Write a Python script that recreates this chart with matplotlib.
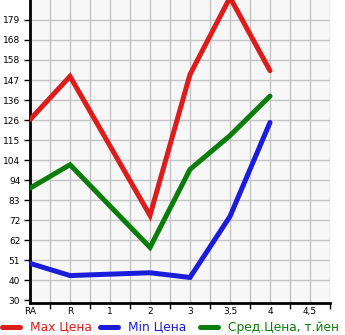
import numpy as np
import matplotlib.pyplot as plt
from matplotlib.lines import Line2D

# categories and tick labels
categorias = ['RA', 'R', '1', '2', '3', '3,5', '4', '4,5']
rotulos_y = ['30', '40', '51', '62', '72', '83', '94', '104', '115', '126',
             '136', '147', '158', '168', '179']
passo_y = (179 - 30) / 14

# series (None = no value)
preco_max = [126, 149, None, 75, 150, 191, 152, None]
preco_min = [49.5, 43, None, 44.5, 42, 74.5, 124.5, None]
preco_med = [89.5, 102, None, 58, 99.5, 117.5, 138.5, None]

cor_max = '#dd1c1c'
cor_min = '#1c1cdd'
cor_med = '#0a7d0a'


def serie(valores):
    x = [i for i, v in enumerate(valores) if v is not None]
    y = [v for v in valores if v is not None]
    return x, y


fig = plt.figure(figsize=(3.45, 3.35), dpi=100)
ax = fig.add_axes([30 / 345, 32 / 335, 300 / 345, 303 / 335])
ax.set_facecolor('#f7f7f7')

for valores, cor in [(preco_max, cor_max), (preco_min, cor_min), (preco_med, cor_med)]:
    x, y = serie(valores)
    ax.plot(x, y, color=cor, linewidth=3.6, solid_capstyle='round',
            solid_joinstyle='miter', zorder=3, clip_on=True)

ax.set_xlim(0, 7.5)
ax.set_ylim(30 - 0.15 * passo_y, 30 + 15 * passo_y)

# grid every half step
ax.set_xticks(np.arange(0.5, 7.6, 1.0))
ax.set_xticklabels([])
ax.set_xticks(np.arange(0, 8), minor=True)
ax.set_xticklabels(categorias, minor=True)
ax.tick_params(axis='x', which='major', length=4, width=1, color='black', direction='out')
ax.tick_params(axis='x', which='minor', length=0, pad=3, labelsize=6.5)

ticks_y = [30 + i * passo_y for i in range(15)]
ax.set_yticks(ticks_y)
ax.set_yticklabels(rotulos_y)
ax.tick_params(axis='y', length=4, width=1, color='black', direction='out', pad=3, labelsize=6.5)

for xv in np.arange(0.5, 7.6, 0.5):
    ax.axvline(xv, color='#c4c4c4', linewidth=1, zorder=1)
for yv in ticks_y[1:]:
    ax.axhline(yv, color='#c4c4c4', linewidth=1, zorder=1)

for lado in ['top', 'right']:
    ax.spines[lado].set_visible(False)
ax.spines['left'].set_linewidth(2)
ax.spines['bottom'].set_linewidth(2)

# legend below the chart
legenda = [('Max Цена', cor_max, 0), ('Min Цена', cor_min, 98), ('Сред.Цена, т.йен', cor_med, 198)]
for texto, cor, x0 in legenda:
    yl = 1 - 327 / 335
    fig.add_artist(Line2D([(x0 + 2) / 345, (x0 + 20) / 345], [yl, yl], color=cor,
                          linewidth=3.6, solid_capstyle='round'))
    fig.text((x0 + 30) / 345, yl, texto, color=cor, fontsize=8.8, va='center', ha='left')

plt.savefig('out.png', dpi=100)
